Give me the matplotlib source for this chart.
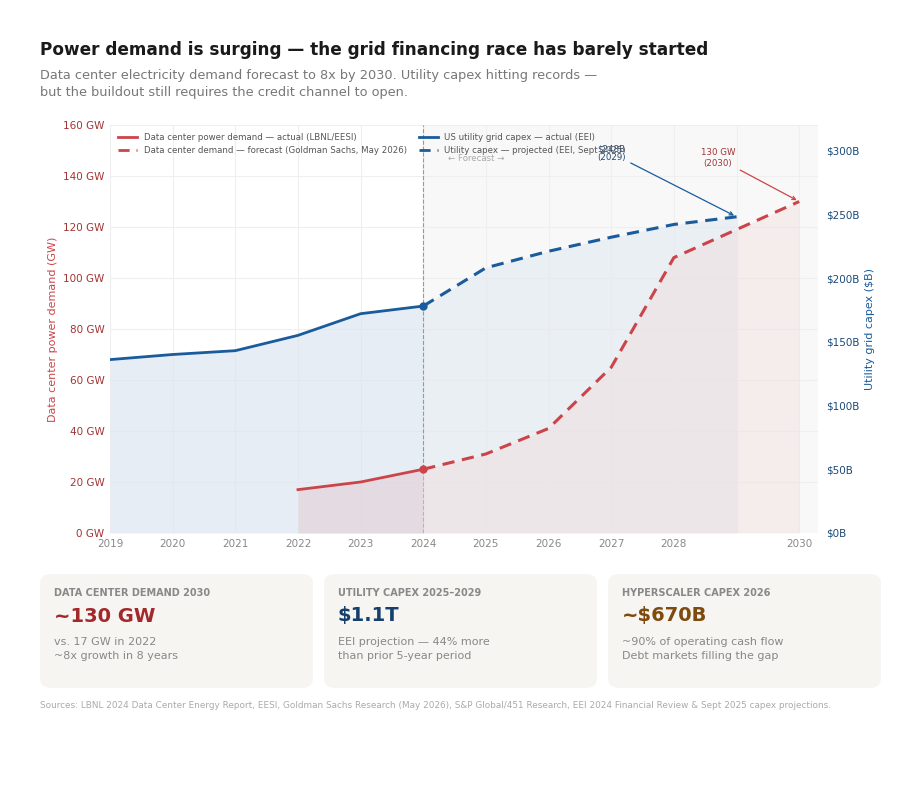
import matplotlib.pyplot as plt
from matplotlib.patches import FancyBboxPatch

plt.rcParams['font.family'] = ['DejaVu Sans']

# data
dc_years_act = [2022, 2023, 2024]
dc_gw_act = [17, 20, 25]
dc_years_fc = [2024, 2025, 2026, 2027, 2028, 2029, 2030]
dc_gw_fc = [25, 31, 41, 65, 108, 119, 130]

cap_years_act = [2019, 2020, 2021, 2022, 2023, 2024]
cap_bn_act = [136, 140, 143, 155, 172, 178]
cap_years_proj = [2024, 2025, 2026, 2027, 2028, 2029]
cap_bn_proj = [178, 208, 221, 232, 242, 248]

xticks = [2019, 2020, 2021, 2022, 2023, 2024, 2025, 2026, 2027, 2028, 2030]
gw_ticks = [0, 20, 40, 60, 80, 100, 120, 140, 160]
bn_ticks = [0, 50, 100, 150, 200, 250, 300]

cards = [
    ("DATA CENTER DEMAND 2030", "~130 GW", "vs. 17 GW in 2022\n~8x growth in 8 years", "#a3282b"),
    ("UTILITY CAPEX 2025\u20132029", "$1.1T", "EEI projection \u2014 44% more\nthan prior 5-year period", "#173f6b"),
    ("HYPERSCALER CAPEX 2026", "~$670B", "~90% of operating cash flow\nDebt markets filling the gap", "#7f4a0e"),
]

RED = '#cc4449'
BLUE = '#1a5b9c'
W, H = 920, 788

fig = plt.figure(figsize=(9.2, 7.88), dpi=100)
fig.patch.set_facecolor('white')

ax = fig.add_axes([110 / W, 1 - 533 / H, 708 / W, 408 / H])
ax2 = ax.twinx()

ax.set_xlim(2019, 2030.3)
ax.set_ylim(0, 160)
ax2.set_ylim(0, 320)

# background layer (ax2 sits below ax): forecast shading + grid
ax2.axvspan(2024, 2030.3, color='#f8f8f8', zorder=0, lw=0)
for x in xticks + [2029]:
    ax2.axvline(x, color='#efefef', lw=0.8, zorder=0.5)
for v in gw_ticks:
    ax2.axhline(v * 2, color='#efefef', lw=0.8, zorder=0.5)
ax2.axvline(2024, color='#999999', ls='--', lw=0.8, zorder=2)

# capex on right axis
ax2.fill_between(cap_years_act, cap_bn_act, color='#dce6f1', alpha=0.7, lw=0, zorder=1)
ax2.fill_between(cap_years_proj, cap_bn_proj, color='#e2e9f1', alpha=0.6, lw=0, zorder=1)
ax2.plot(cap_years_act, cap_bn_act, color=BLUE, lw=2, zorder=3)
ax2.plot(cap_years_proj, cap_bn_proj, color=BLUE, lw=2.2, ls=(0, (4, 2.5)), zorder=3)
ax2.plot([2024], [178], 'o', color=BLUE, ms=5, zorder=4)

# demand on left axis
ax.set_zorder(ax2.get_zorder() + 1)
ax.patch.set_visible(False)
ax.fill_between(dc_years_act, dc_gw_act, color='#e3cdd3', alpha=0.55, lw=0, zorder=1)
ax.fill_between(dc_years_fc, dc_gw_fc, color='#f0d8d8', alpha=0.35, lw=0, zorder=1)
ax.plot(dc_years_act, dc_gw_act, color=RED, lw=2, zorder=3)
ax.plot(dc_years_fc, dc_gw_fc, color=RED, lw=2.2, ls=(0, (4, 2.5)), zorder=3)
ax.plot([2024], [25], 'o', color=RED, ms=5, zorder=4)

ax.set_xticks(xticks)
ax.set_yticks(gw_ticks)
ax.set_yticklabels([f"{v} GW" for v in gw_ticks])
ax2.set_yticks(bn_ticks)
ax2.set_yticklabels([f"${v}B" for v in bn_ticks])

for a in (ax, ax2):
    for s in a.spines.values():
        s.set_visible(False)
    a.tick_params(length=0, labelsize=7.5)
ax.tick_params(axis='x', colors='#888888', pad=4)
ax.tick_params(axis='y', colors='#a33333', pad=4)
ax2.tick_params(axis='y', colors='#1b4a7a', pad=6)
ax.set_ylabel("Data center power demand (GW)", color=RED, fontsize=8)
ax2.set_ylabel("Utility grid capex ($B)", color=BLUE, fontsize=8)

# legend
h1, = ax.plot([], [], color=RED, lw=2, label="Data center power demand \u2014 actual (LBNL/EESI)")
h2, = ax.plot([], [], color=RED, lw=2, ls=(0, (4, 2.5)), label="Data center demand \u2014 forecast (Goldman Sachs, May 2026)")
h3, = ax.plot([], [], color=BLUE, lw=2, label="US utility grid capex \u2014 actual (EEI)")
h4, = ax.plot([], [], color=BLUE, lw=2, ls=(0, (4, 2.5)), label="Utility capex \u2014 projected (EEI, Sept 2025)")
leg = ax.legend(handles=[h1, h2, h3, h4], ncol=2, loc='upper left', frameon=False,
                fontsize=6.2, bbox_to_anchor=(0.0, 1.0), handlelength=2.2,
                columnspacing=1.4, labelspacing=0.5)
for t in leg.get_texts():
    t.set_color('#555555')

ax.text(2024.4, 147, "\u2190 Forecast \u2192", fontsize=6.2, color='#aaaaaa', ha='left', va='center')

# annotations
ax2.annotate("$248B\n(2029)", xy=(2029, 248), xytext=(2027.0, 298),
             fontsize=6.2, color='#1b4a7a', ha='center', va='center', linespacing=0.9,
             arrowprops=dict(arrowstyle='->', color=BLUE, lw=0.9, shrinkA=2))
ax.annotate("130 GW\n(2030)", xy=(2030, 130), xytext=(2028.7, 147),
            fontsize=6.2, color='#a33333', ha='center', va='center',
            arrowprops=dict(arrowstyle='->', color=RED, lw=0.9))

# titles
fig.text(40 / W, 1 - 50 / H, "Power demand is surging \u2014 the grid financing race has barely started",
         fontsize=12.2, fontweight='bold', color='#1a1a1a', va='center')
fig.text(40 / W, 1 - 84 / H, "Data center electricity demand forecast to 8x by 2030. Utility capex hitting records \u2014\nbut the buildout still requires the credit channel to open.",
         fontsize=9.3, color='#777777', va='center', linespacing=1.35)

# cards
card_x = [40, 324, 608]
for (lab, big, sub, col), cx in zip(cards, card_x):
    box = FancyBboxPatch((cx / W, 1 - 688 / H), 273 / W, 114 / H,
                         boxstyle="round,pad=0,rounding_size=0.012",
                         transform=fig.transFigure, facecolor='#f6f5f2', edgecolor='none')
    fig.patches.append(box)
    fig.text((cx + 14) / W, 1 - 593 / H, lab, fontsize=7, fontweight='bold', color='#888888', va='center')
    fig.text((cx + 14) / W, 1 - 616 / H, big, fontsize=14, fontweight='bold', color=col, va='center')
    fig.text((cx + 14) / W, 1 - 649 / H, sub, fontsize=8, color='#888888', va='center', linespacing=1.45)

fig.text(40 / W, 1 - 706 / H,
         "Sources: LBNL 2024 Data Center Energy Report, EESI, Goldman Sachs Research (May 2026), S&P Global/451 Research, EEI 2024 Financial Review & Sept 2025 capex projections.",
         fontsize=6.4, color='#aaaaaa', va='center')

fig.savefig('out.png', dpi=100, facecolor='white')
